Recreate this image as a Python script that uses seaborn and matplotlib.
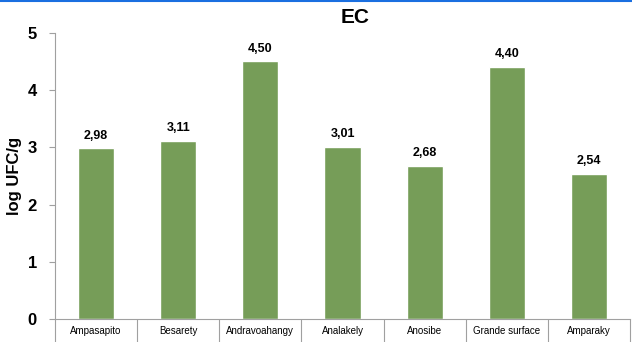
import matplotlib
matplotlib.use("Agg")
import matplotlib.pyplot as plt
import seaborn as sns
import pandas as pd
from matplotlib.lines import Line2D
from matplotlib.ticker import FixedLocator

categories = ["Ampasapito", "Besarety", "Andravoahangy", "Analakely", "Anosibe", "Grande surface", "Amparaky"]
values = [2.98, 3.11, 4.50, 3.01, 2.68, 4.40, 2.54]
value_labels = ["2,98", "3,11", "4,50", "3,01", "2,68", "4,40", "2,54"]

sns.set_style("white")
plt.rcParams['font.family'] = ['Liberation Sans', 'DejaVu Sans']
plt.rcParams['text.color'] = 'black'
plt.rcParams['xtick.color'] = 'black'
plt.rcParams['ytick.color'] = 'black'
plt.rcParams['axes.labelcolor'] = 'black'

df = pd.DataFrame({"site": categories, "val": values})

fig = plt.figure(figsize=(6.32, 3.42), dpi=100)
ax = fig.add_axes([0.087, 0.067, 0.910, 0.837])
sns.barplot(data=df, x="site", y="val", color="#769D58", width=0.44, ax=ax, saturation=1)

ax.set_ylim(0, 5)
ax.set_xlim(-0.5, len(categories) - 0.5)
ax.set_yticks([0, 1, 2, 3, 4, 5])
ax.set_yticklabels(["0", "1", "2", "3", "4", "5"], fontsize=12, fontweight="bold")
ax.set_xticks(range(len(categories)))
ax.set_xticklabels(categories, fontsize=7)
ax.tick_params(axis="x", which="major", length=0, pad=5, colors="black")
ax.xaxis.set_minor_locator(FixedLocator([i - 0.5 for i in range(len(categories) + 1)]))
ax.tick_params(axis="x", which="minor", length=20, color="#a0a0a0", width=0.8, bottom=True)
ax.tick_params(axis="y", which="major", length=4, color="#a0a0a0", width=0.8, left=True, pad=9, labelcolor="black")

ax.set_xlabel("")
ax.set_ylabel("log UFC/g", fontsize=12, fontweight="bold", labelpad=4)
ax.set_title("EC", fontsize=15, fontweight="bold", pad=7, x=0.522)

for s in ["top", "right"]:
    ax.spines[s].set_visible(False)
for s in ["left", "bottom"]:
    ax.spines[s].set_color("#a0a0a0")
    ax.spines[s].set_linewidth(0.8)

for i, (v, lab) in enumerate(zip(values, value_labels)):
    ax.text(i, v + 0.12, lab, ha="center", va="bottom", fontsize=9, fontweight="bold")

fig.add_artist(Line2D([0, 1], [0.998, 0.998], transform=fig.transFigure, color="#1a6fe0", linewidth=1.5))

fig.savefig("out.png", dpi=100)
